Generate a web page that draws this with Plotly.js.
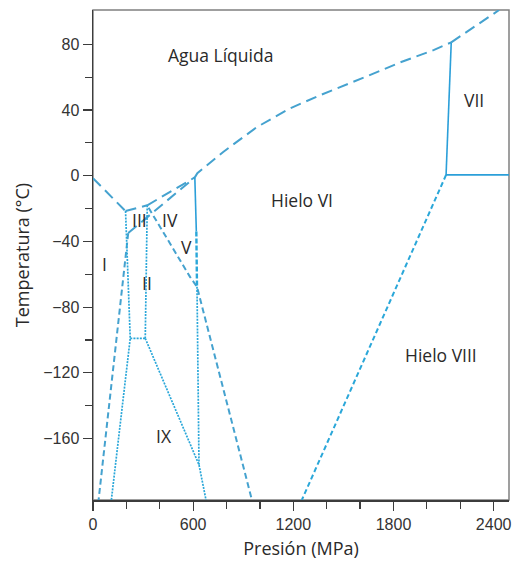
<!DOCTYPE html>
<html>
<head>
<meta charset="utf-8">
<script src="https://cdn.plot.ly/plotly-3.0.1.min.js"></script>
<style>
  html, body { margin: 0; padding: 0; background: #ffffff; }
  #chart { width: 513px; height: 563px; }
</style>
</head>
<body>
<div id="chart"></div>
<script>
// Phase boundaries of water: pressure P (MPa) and temperature T (°C)

// melting curves (liquid / ice)
const meltI_P   = [0, 195];
const meltI_T   = [-1.5, -21.5];
const meltIII_P = [195, 325];
const meltIII_T = [-21.5, -18];
const meltV_P   = [325, 610];
const meltV_T   = [-18, -1];
const meltVI_P  = [610, 625, 780, 980, 1180, 1360, 1640, 1840, 2040, 2146];
const meltVI_T  = [-1, 1.5, 14.5, 29.5, 41, 49, 60.5, 69, 76.5, 81.2];
const meltVII_P = [2146, 2433];
const meltVII_T = [81.2, 100.9];
const iceIIIlow_P = [211, 610];
const iceIIIlow_T = [-34.9, -1];

// solid / solid boundaries
const iceI_II_P  = [211, 33.5];
const iceI_II_T  = [-34.9, -197.4];
const metaV_P    = [333, 582, 623, 952];
const metaV_T    = [-19.5, -61.7, -67.6, -197.4];
const iceVI_VIII_P = [2115, 1251];
const iceVI_VIII_T = [0.5, -197.4];
const iceVI_VII_P  = [2146, 2115];
const iceVI_VII_T  = [81.2, 0.5];
const iceVII_VIII_P = [2115, 2492];
const iceVII_VIII_T = [0.5, 0.5];
const iceV_VI_solid_P = [610, 619];
const iceV_VI_solid_T = [-1, -34];
const iceV_VI_dash_P  = [619, 623];
const iceV_VI_dash_T  = [-34, -67.6];
const iceV_VI_dot_P   = [623, 635];
const iceV_VI_dot_T   = [-67.6, -176];
const iceII_left_P  = [195, 223, 110];
const iceII_left_T  = [-21.5, -99, -197.4];
const iceII_base_P  = [223, 313];
const iceII_base_T  = [-99, -99];
const iceII_right_P = [325, 313];
const iceII_right_T = [-18, -99];
const iceIX_P = [313, 635, 677];
const iceIX_T = [-99, -176, -197.4];

// phase names
const phaseNames = ['Agua Líquida', 'Hielo VI', 'VII', 'Hielo VIII', 'III', 'IV', 'V', 'I', 'II', 'IX'];
const phaseP     = [763, 1253, 2283, 2085, 280, 460, 560, 70, 322, 427];
const phaseT     = [73.5, -15, 46, -109, -27, -27, -43.5, -54, -65.5, -158.5];

// axis ticks
const xTicks = [0, 600, 1200, 1800, 2400];
const xMinor = [200, 400, 800, 1000, 1400, 1600, 2000, 2200];
const yTicks = [-160, -120, -80, -40, 0, 40, 80];
const yMinor = [-140, -100, -60, -20, 20, 60];

const cDash = '#45a2cf';
const cDot  = '#2aa7d9';
const cSolid = '#2b9fd9';

const LONG = '11px,6px';
const MED  = '6px,3.5px';
const FINE = '2px,1.2px';

function seg(P, T, color, dash, width) {
  return {
    x: P, y: T, type: 'scatter', mode: 'lines',
    line: { color: color, dash: dash, width: width },
    hoverinfo: 'skip', showlegend: false
  };
}

const traces = [
  seg(meltI_P, meltI_T, cDash, LONG, 2),
  seg(meltIII_P, meltIII_T, cDash, LONG, 2),
  seg(meltV_P, meltV_T, cDash, LONG, 2),
  seg(meltVI_P, meltVI_T, cDash, LONG, 2),
  seg(meltVII_P, meltVII_T, cDash, LONG, 2),
  seg(iceIIIlow_P, iceIIIlow_T, cDash, LONG, 2),
  seg(iceI_II_P, iceI_II_T, cDash, MED, 2),
  seg(metaV_P, metaV_T, cDash, MED, 2),
  seg(iceVI_VIII_P, iceVI_VIII_T, cDot, '5px,3px', 2),
  seg(iceVI_VII_P, iceVI_VII_T, cSolid, 'solid', 1.6),
  seg(iceVII_VIII_P, iceVII_VIII_T, cSolid, 'solid', 1.6),
  seg(iceV_VI_solid_P, iceV_VI_solid_T, cSolid, 'solid', 1.6),
  seg(iceV_VI_dash_P, iceV_VI_dash_T, cDot, '5px,2px', 2.4),
  seg(iceV_VI_dot_P, iceV_VI_dot_T, cDot, FINE, 1.7),
  seg(iceII_left_P, iceII_left_T, cDot, FINE, 1.7),
  seg(iceII_base_P, iceII_base_T, cDot, FINE, 1.7),
  seg(iceII_right_P, iceII_right_T, cDot, FINE, 1.7),
  seg(iceIX_P, iceIX_T, cDot, FINE, 1.7)
];

const annotations = phaseNames.map((name, i) => ({
  x: phaseP[i], y: phaseT[i], xref: 'x', yref: 'y',
  text: name, showarrow: false,
  font: { family: 'Open Sans, sans-serif', size: 17.5, color: '#2a2a2a' }
}));

const axisCommon = {
  showgrid: false, zeroline: false,
  showline: true, linecolor: '#3c3c3c', linewidth: 1.5,
  ticks: 'outside', ticklen: 9, tickwidth: 1.2, tickcolor: '#3c3c3c',
  tickfont: { family: 'Liberation Sans, Arial, sans-serif', size: 16, color: '#333333' },
  fixedrange: true
};

const layout = {
  width: 513, height: 563,
  margin: { l: 93, r: 4, t: 10, b: 63 },
  paper_bgcolor: '#ffffff', plot_bgcolor: '#ffffff',
  showlegend: false,
  xaxis: Object.assign({}, axisCommon, {
    range: [0, 2492],
    tickvals: xTicks,
    ticktext: xTicks.map(String),
    minor: { tickvals: xMinor, ticks: 'outside', ticklen: 7, tickwidth: 1.2, tickcolor: '#3c3c3c', showgrid: false },
    title: { text: 'Presión (MPa)', standoff: 10,
             font: { family: 'Open Sans, sans-serif', size: 18, color: '#2a2a2a' } }
  }),
  yaxis: Object.assign({}, axisCommon, {
    range: [-197.4, 100.9],
    tickvals: yTicks,
    minor: { tickvals: yMinor, ticks: 'outside', ticklen: 7, tickwidth: 1.2, tickcolor: '#3c3c3c', showgrid: false },
    title: { text: 'Temperatura (°C)', standoff: 9,
             font: { family: 'Open Sans, sans-serif', size: 18, color: '#2a2a2a' } }
  }),
  shapes: [{
    type: 'rect', xref: 'paper', yref: 'paper', x0: 0, x1: 1, y0: 0, y1: 1,
    line: { color: '#808080', width: 1.5 }, fillcolor: 'rgba(0,0,0,0)', layer: 'below'
  }],
  annotations: annotations
};

Plotly.newPlot('chart', traces, layout, { staticPlot: true, displayModeBar: false });
</script>
</body>
</html>
